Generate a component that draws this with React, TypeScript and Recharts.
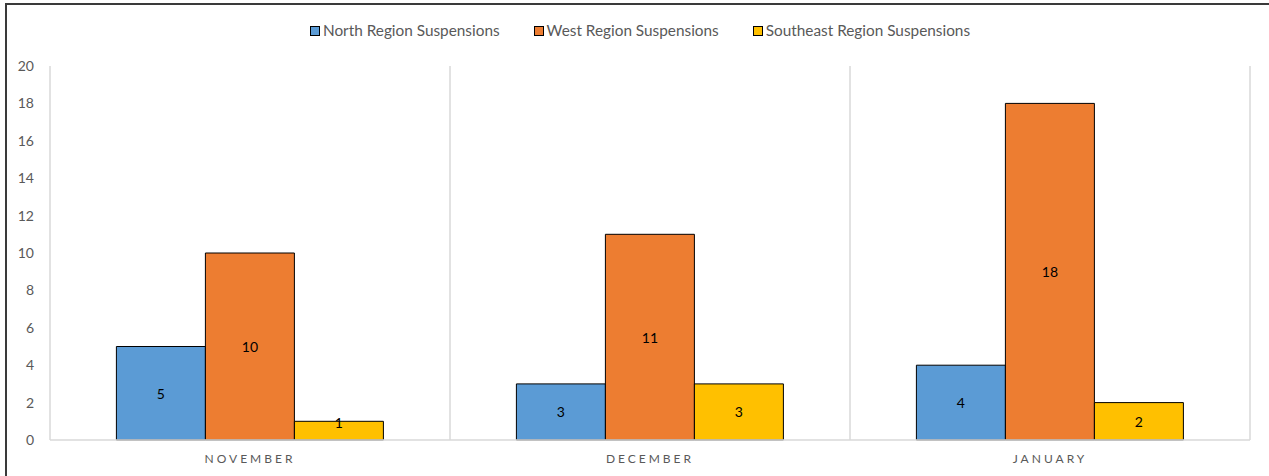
import React from 'react';
import {
    BarChart,
    Bar,
    XAxis,
    YAxis,
    CartesianGrid,
    Legend,
    LabelList,
} from 'recharts';

const months = ['NOVEMBER', 'DECEMBER', 'JANUARY'];
const northValues = [5, 3, 4];
const westValues = [10, 11, 18];
const southeastValues = [1, 3, 2];
const yTicks = [0, 2, 4, 6, 8, 10, 12, 14, 16, 18, 20];

const series = [
    { key: 'north', name: 'North Region Suspensions', color: '#5B9BD5' },
    { key: 'west', name: 'West Region Suspensions', color: '#ED7D31' },
    { key: 'southeast', name: 'Southeast Region Suspensions', color: '#FFC000' },
];

const data = months.map((month, i) => ({
    month,
    north: northValues[i],
    west: westValues[i],
    southeast: southeastValues[i],
}));

const FONT = 'Lato, "Noto Sans", sans-serif';
const TEXT_GREY = '#595959';

// vertical lines sit between categories (Excel style), taken from the band scale
function categoryBoundaries({ xAxis, offset }: any) {
    const scale = xAxis && xAxis.scale;
    if (typeof scale === 'function' && typeof scale.bandwidth === 'function') {
        const starts = months.map((m) => scale(m));
        return [...starts, starts[starts.length - 1] + scale.bandwidth()];
    }
    const step = offset.width / months.length;
    return [0, 1, 2, 3].map((i) => offset.left + i * step);
}

// centred label; on very short bars it rides up onto the top edge like Excel does
function BarValueLabel(props: any) {
    const { x, y, width, height, value } = props;
    const cy = height < 20 ? y + 1 : y + height / 2;
    return (
        <text
            x={x + width / 2}
            y={cy}
            textAnchor="middle"
            dominantBaseline="central"
            fill="#000"
            fontSize={14}
            fontFamily={FONT}
        >
            {value}
        </text>
    );
}

function LegendContent() {
    // keep the series order instead of the default alphabetical sort
    return (
        <div
            style={{
                display: 'flex',
                justifyContent: 'center',
                fontFamily: FONT,
                fontSize: 15.35,
                lineHeight: '17px',
                color: TEXT_GREY,
                paddingLeft: 30,
            }}
        >
            {series.map((s) => (
                <div
                    key={s.key}
                    style={{ display: 'flex', alignItems: 'center', margin: '0 17px' }}
                >
                    <span
                        style={{
                            display: 'inline-block',
                            width: 8,
                            height: 8,
                            background: s.color,
                            border: '1px solid #000',
                            marginRight: 3,
                        }}
                    />
                    <span>{s.name}</span>
                </div>
            ))}
        </div>
    );
}

export default function App() {
    return (
        <div
            style={{
                position: 'absolute',
                left: 0,
                top: 0,
                width: 1269,
                height: 476,
                overflow: 'hidden',
                background: '#fff',
            }}
        >
            <div
                style={{
                    position: 'absolute',
                    left: 5,
                    top: 3,
                    width: 1300,
                    height: 500,
                    borderTop: '2px solid #3a3a3a',
                    borderLeft: '2px solid #3a3a3a',
                }}
            />
            <div style={{ position: 'absolute', left: 0, top: 0 }}>
                <BarChart
                    width={1269}
                    height={476}
                    data={data}
                    margin={{ top: 49, right: 19, bottom: 0, left: 0 }}
                    barCategoryGap="16.6%"
                    barGap={0}
                    style={{ fontFamily: FONT }}
                >
                    <CartesianGrid
                        horizontal={false}
                        stroke="#d9d9d9"
                        strokeWidth={1.5}
                        verticalCoordinatesGenerator={categoryBoundaries}
                    />
                    <XAxis
                        dataKey="month"
                        height={36}
                        stroke="#d9d9d9"
                        strokeWidth={1.5}
                        tickLine={false}
                        tickMargin={8}
                        tick={{ fill: TEXT_GREY, fontSize: 12, letterSpacing: 3 }}
                    />
                    <YAxis
                        width={50}
                        domain={[0, 20]}
                        ticks={yTicks}
                        axisLine={false}
                        tickLine={false}
                        tickMargin={10}
                        tick={{ fill: TEXT_GREY, fontSize: 14 }}
                    />
                    <Legend
                        verticalAlign="top"
                        height={17}
                        wrapperStyle={{ top: 22 }}
                        content={LegendContent}
                    />
                    {series.map((s) => (
                        <Bar
                            key={s.key}
                            dataKey={s.key}
                            name={s.name}
                            fill={s.color}
                            stroke="#000"
                            strokeWidth={1}
                            isAnimationActive={false}
                        >
                            <LabelList dataKey={s.key} content={BarValueLabel} />
                        </Bar>
                    ))}
                </BarChart>
            </div>
        </div>
    );
}
